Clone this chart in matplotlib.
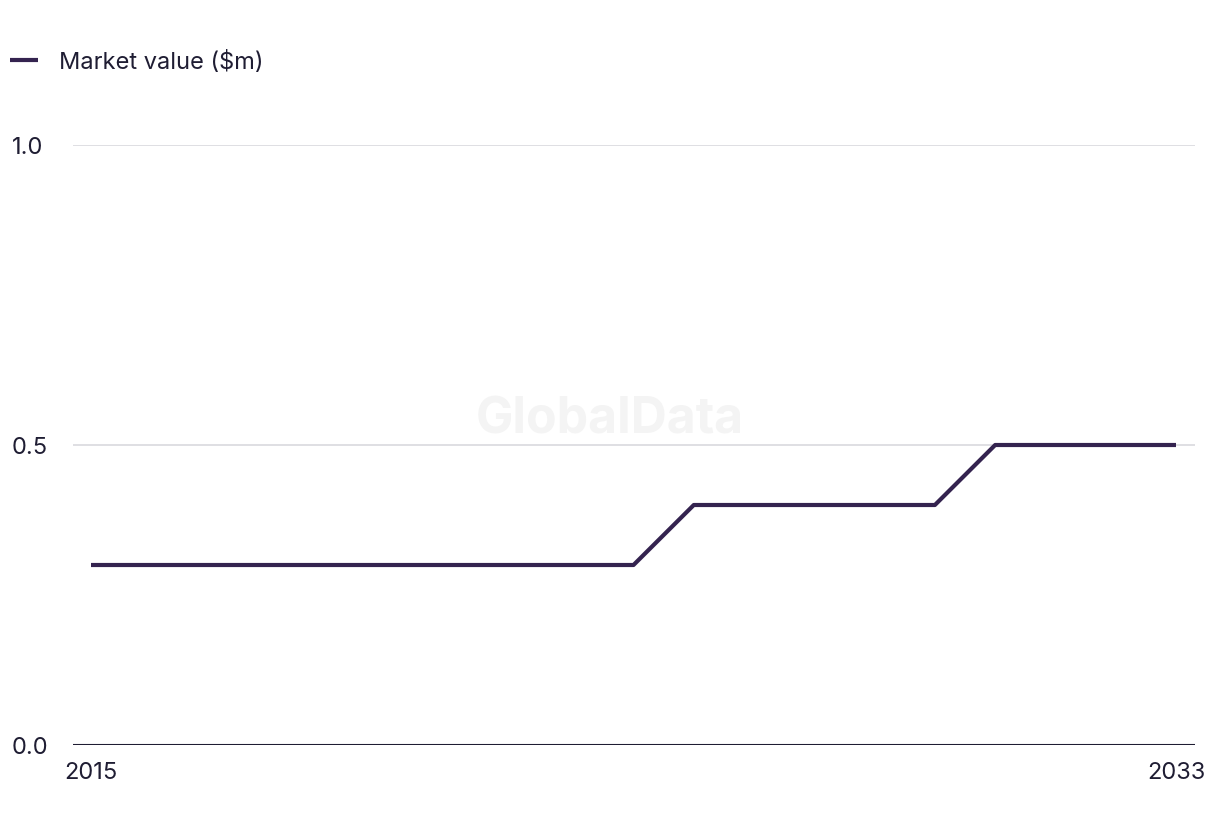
import matplotlib.pyplot as plt

# market value data
years = list(range(2015, 2034))
market_value = [0.3, 0.3, 0.3, 0.3, 0.3, 0.3, 0.3, 0.3, 0.3, 0.3,
                0.4, 0.4, 0.4, 0.4, 0.4,
                0.5, 0.5, 0.5, 0.5]
y_ticks = [0.0, 0.5, 1.0]
x_ticks = [2015, 2033]

line_color = "#34234f"
text_color = "#1f1d33"

plt.rcParams['font.family'] = ['Inter', 'DejaVu Sans']

fig = plt.figure(figsize=(12.2, 8.36), dpi=100)
ax = fig.add_axes([73/1220, 1 - 745/836, (1195 - 73)/1220, (745 - 145)/836])

ax.plot(years, market_value, color=line_color, linewidth=3, label="Market value ($m)",
        solid_capstyle="butt", zorder=3)

ax.set_xlim(2015 - 18/60.28, 2033 + 19/60.28)
ax.set_ylim(0, 1.0)

ax.set_yticks(y_ticks)
ax.set_yticklabels([f"{v:.1f}" for v in y_ticks])
ax.set_xticks(x_ticks)
ax.set_xticklabels([str(x) for x in x_ticks])

for v in y_ticks[1:]:
    ax.axhline(v, color="#d9d9de", linewidth=1.2, zorder=1)
ax.axhline(0, color=text_color, linewidth=1.5, zorder=2)

for s in ax.spines.values():
    s.set_visible(False)

ax.tick_params(axis="both", length=0, labelsize=17, colors=text_color)
ax.tick_params(axis="x", pad=12)
for lbl in ax.get_yticklabels():
    lbl.set_horizontalalignment("left")
# pad is in points: 61 px from axis to label's left edge
ax.tick_params(axis="y", pad=61 * 72 / 100)

# watermark
fig.text(610/1220, 1 - 420/836, "GlobalData", fontsize=36, fontweight="bold",
         color="#f4f4f4", ha="center", va="center", zorder=0)

leg = fig.legend(loc="center left", bbox_to_anchor=(12/1220 - 0.002, 1 - 62/836), frameon=False,
                 fontsize=17, handlelength=1.2, handletextpad=0.9, borderaxespad=0,
                 borderpad=0)
for t in leg.get_texts():
    t.set_color(text_color)

fig.savefig("out.png", dpi=100)
